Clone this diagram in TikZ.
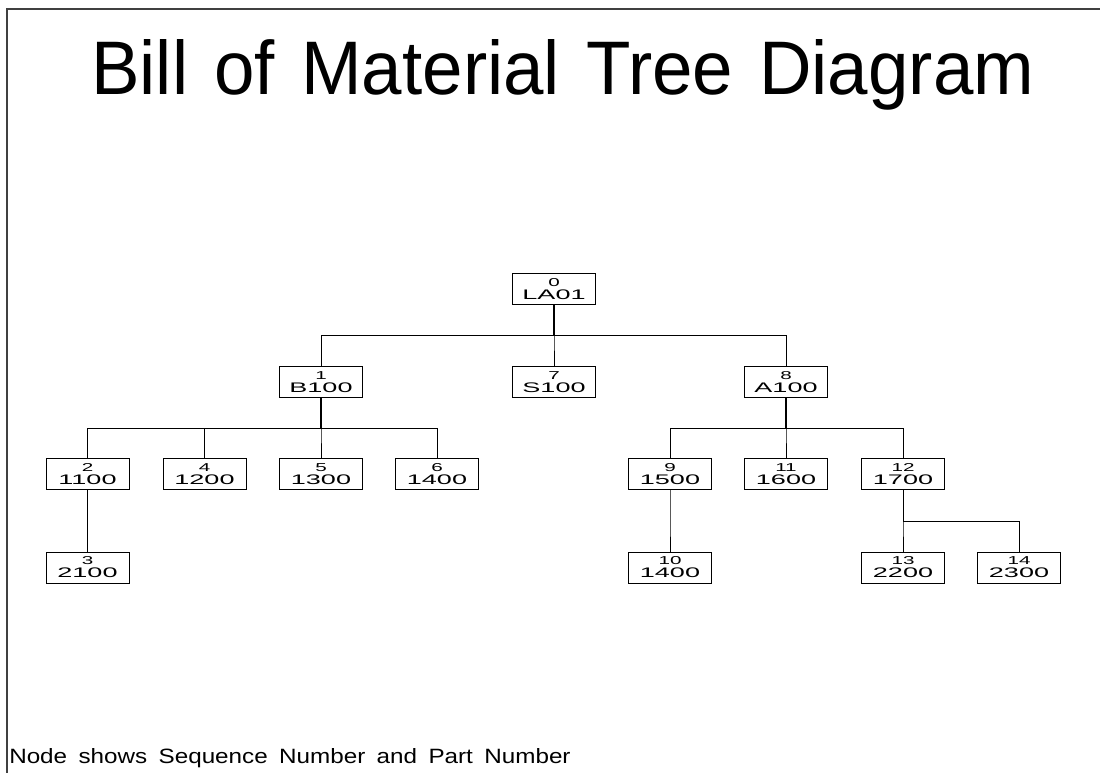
\documentclass[tikz,border=0pt]{standalone}
\usepackage{fontspec}
\usepackage{graphicx}
\setmainfont{Liberation Sans}
\newfontfamily\titlefont[WordSpace=1.4]{Liberation Sans}
\newfontfamily\notefont[WordSpace=1.3]{Liberation Sans}
\newcommand\bomtext[2]{\vbox to 23.25pt{\offinterlineskip\hsize=62.25pt
 \kern 9.3pt
 \hbox to\hsize{\hss\raisebox{0pt}[0pt][0pt]{\scalebox{1.8}[1]{\fontsize{8.6pt}{9pt}\selectfont #1}}\hss}
 \kern 9.6pt
 \hbox to\hsize{\hss\raisebox{0pt}[0pt][0pt]{\scalebox{1.95}[1]{\fontsize{10.4pt}{11pt}\selectfont #2}}\hss}
 \vfil}}
\tikzset{
  bom/.style={draw=black, line width=0.75pt, inner sep=0pt, minimum width=62.25pt, minimum height=23.25pt},
  edge/.style={draw=black, line width=0.75pt},
  stem/.style={draw=black, line width=1.1pt},
  frame/.style={draw=black!75, line width=0.8pt}
}
\begin{document}
\begin{tikzpicture}[x=0.75pt, y=-0.75pt]
\useasboundingbox (0,0) rectangle (1100,773);
\draw[frame] (7,773) -- (7,9) -- (1100,9);

\node[anchor=base west, inner sep=0pt] (title) at (91,95)
  {\resizebox{707pt}{41.25pt}{\titlefont Bill of Material Tree Diagram}};
\node[anchor=base west, inner sep=0pt] (note) at (9,763)
  {\resizebox{421pt}{11.25pt}{\notefont Node shows Sequence Number and Part Number}};

\coordinate (b1) at (0,336);
\coordinate (b2) at (0,429);
\coordinate (b3) at (0,522);

% level 0
\node[bom] (n0) at (554,289.5) {\bomtext{0}{LA01}};
% level 1
\node[bom] (n1) at (321,382.5) {\bomtext{1}{B100}};
\node[bom] (n7) at (554,382.5) {\bomtext{7}{S100}};
\node[bom] (n8) at (786,382.5) {\bomtext{8}{A100}};
% level 2
\node[bom] (n2) at (87.5,474.5) {\bomtext{2}{1100}};
\node[bom] (n4) at (204.5,474.5) {\bomtext{4}{1200}};
\node[bom] (n5) at (321,474.5) {\bomtext{5}{1300}};
\node[bom] (n6) at (437,474.5) {\bomtext{6}{1400}};
\node[bom] (n9) at (670,474.5) {\bomtext{9}{1500}};
\node[bom] (n11) at (786,474.5) {\bomtext{11}{1600}};
\node[bom] (n12) at (903,474.5) {\bomtext{12}{1700}};
% level 3
\node[bom] (n3) at (87.5,567.5) {\bomtext{3}{2100}};
\node[bom] (n10) at (670,567.5) {\bomtext{10}{1400}};
\node[bom] (n13) at (903,567.5) {\bomtext{13}{2200}};
\node[bom] (n14) at (1019,567.5) {\bomtext{14}{2300}};

% connectors
\foreach \p/\c/\b in {n0/n1/b1, n0/n7/b1, n0/n8/b1,
                      n1/n2/b2, n1/n4/b2, n1/n5/b2, n1/n6/b2,
                      n8/n9/b2, n8/n11/b2, n8/n12/b2,
                      n2/n3/b3, n9/n10/b3, n12/n13/b3, n12/n14/b3}
  \draw[edge] (\p.south) -- (\p.south |- \b) -| (\c.north);
\foreach \p/\b in {n0/b1, n1/b2, n8/b2}
  \draw[stem] (\p.south) -- (\p.south |- \b);
\end{tikzpicture}
\end{document}
